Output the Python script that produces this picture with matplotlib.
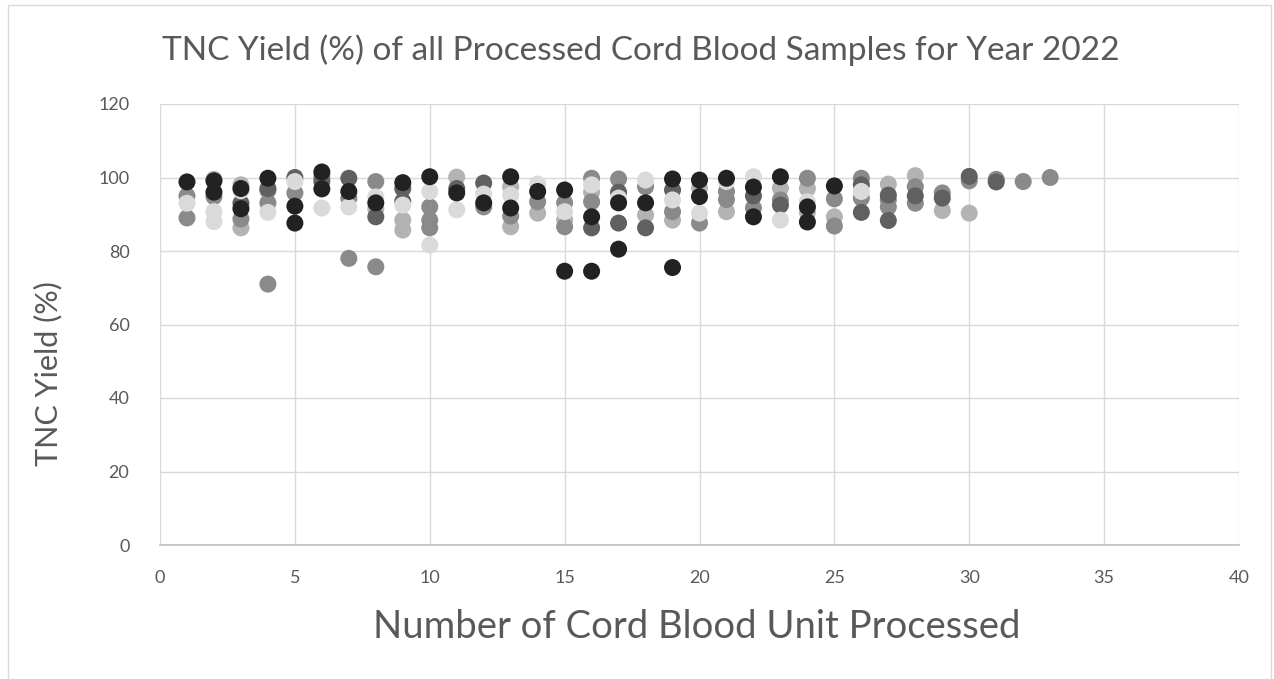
import matplotlib
matplotlib.use("Agg")
import matplotlib.pyplot as plt
from matplotlib.patches import Rectangle

plt.rcParams['font.family'] = ['Lato', 'DejaVu Sans']

title = "TNC Yield (%) of all Processed Cord Blood Samples for Year 2022"
x_label = "Number of Cord Blood Unit Processed"
y_label = "TNC Yield (%)"
x_ticks = [0, 5, 10, 15, 20, 25, 30, 35, 40]
y_ticks = [0, 20, 40, 60, 80, 100, 120]

# Points grouped by marker shade
light_x = [2, 3, 3, 8, 9, 9, 11, 13, 13, 14, 15, 16, 18, 19, 20, 21, 23, 24, 24, 25, 27, 28, 29, 30]
light_y = [99.5, 98, 86.3, 91.5, 88.4, 85.7, 100.1, 97.5, 86.6, 90.3, 88.5, 96, 89.8, 88.4, 97.1, 90.7, 97.1, 97, 90.5, 89.3, 98.2, 100.5, 91, 90.3]

mid_x = [1, 1, 2, 3, 4, 4, 4, 5, 6, 7, 7, 8, 8, 10, 10, 10, 12, 13, 14, 15, 15, 16, 16, 17, 18, 19, 20,
         21, 21, 22, 23, 24, 25, 25, 26, 26, 27, 27, 28, 28, 29, 30, 31, 32, 33]
mid_y = [95, 89, 94.8, 88.7, 96.5, 93.1, 71, 95.8, 100.2, 94.3, 78, 98.9, 75.7, 92, 88.4, 86.3, 92, 89.5, 93.4, 93.1, 86.6, 99.8, 93.4, 99.6, 97.5, 90.7, 87.6,
         96.2, 94, 91.7, 93.9, 99.8, 94.2, 86.8, 99.8, 94.4, 93.9, 92, 97.5, 93, 95.8, 99.1, 99.5, 98.9, 100]

dark_x = [3, 4, 5, 6, 7, 8, 9, 9, 11, 12, 16, 17, 17, 18, 19, 22, 23, 26, 26, 27, 27, 28, 29, 30, 31]
dark_y = [93, 97, 100, 99, 99.8, 89.3, 97, 93.5, 97, 98.5, 86.3, 96, 87.6, 86.3, 96.6, 95, 92.5, 98, 90.5, 95.2, 88.3, 95, 94.4, 100.3, 98.8]

vlight_x = [1, 2, 2, 3, 4, 5, 6, 7, 8, 9, 10, 10, 11, 12, 13, 14, 15, 16, 17, 18, 19, 20, 21, 22, 23, 24, 26]
vlight_y = [93, 90.7, 88, 96.4, 90.5, 98.9, 91.7, 92, 94.7, 92.5, 96.2, 81.6, 91.2, 95.5, 95.2, 98.2, 90.7, 98, 94.4, 99.3, 93.9, 90.3, 98.9, 100.2, 88.4, 93.4, 96.2]

black_x = [1, 2, 2, 3, 3, 4, 5, 5, 6, 6, 7, 8, 9, 10, 11, 12, 13, 13, 14, 15, 15, 16, 16, 17, 17, 18, 19, 19,
           20, 20, 21, 22, 22, 23, 24, 24, 25]
black_y = [98.8, 99.1, 96, 97, 91.5, 99.8, 92.2, 87.6, 101.5, 96.9, 96.2, 93.1, 98.6, 100.2, 95.8, 93.1, 100.2, 91.7, 96.2, 96.6, 74.5, 89.3, 74.5, 93.1, 80.5, 93.1, 99.6, 75.5,
           99.3, 94.8, 99.8, 97.4, 89.3, 100.2, 92, 87.9, 97.7]

groups = [
    (light_x, light_y, '#b3b3b3'),
    (mid_x, mid_y, '#8a8a8a'),
    (dark_x, dark_y, '#606060'),
    (vlight_x, vlight_y, '#dadada'),
    (black_x, black_y, '#222222'),
]

fig = plt.figure(figsize=(12.74, 6.79), dpi=100)
fig.patches.append(Rectangle((8 / 1274, -0.1), 1263 / 1274, 1.1 - 5 / 679, transform=fig.transFigure,
                             fill=False, edgecolor='#d9d9d9', linewidth=1.0))
ax = fig.add_axes([160 / 1274, 1 - 545 / 679, (1239 - 160) / 1274, (545 - 104) / 679])

for xs, ys, c in groups:
    ax.scatter(xs, ys, s=150, color=c, edgecolors='none', zorder=3)

ax.set_xlim(0, 40)
ax.set_ylim(0, 120)
ax.set_xticks(x_ticks)
ax.set_yticks(y_ticks)
ax.grid(True, color='#d9d9d9', linewidth=1.0, zorder=0)
ax.set_axisbelow(True)
for s in ['top', 'right', 'left']:
    ax.spines[s].set_visible(False)
ax.spines['bottom'].set_color('#bfbfbf')
ax.spines['bottom'].set_linewidth(1.2)
ax.tick_params(axis='both', length=0, labelsize=13, labelcolor='#595959')
ax.tick_params(axis='x', pad=18)
ax.tick_params(axis='y', pad=22)

fig.text(641 / 1274, 1 - 50 / 679, title, ha='center', va='center', fontsize=24, color='#595959')
fig.text(697 / 1274, 1 - 627 / 679, x_label, ha='center', va='center', fontsize=27.5, color='#595959')
fig.text(48 / 1274, 1 - 374 / 679, y_label, ha='center', va='center', rotation=90, fontsize=22, color='#595959')

fig.savefig('out.png', dpi=100)
